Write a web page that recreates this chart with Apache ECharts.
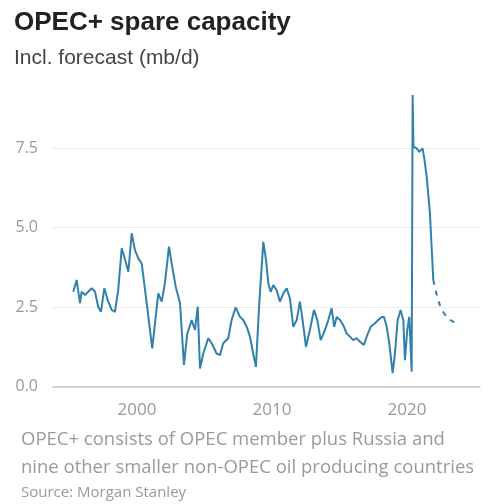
<!DOCTYPE html>
<html>
<head>
<meta charset="utf-8">
<script src="https://cdn.jsdelivr.net/npm/echarts@6/dist/echarts.min.js"></script>
<style>
  html, body { margin: 0; padding: 0; background: #fff; }
  #chart { width: 486px; height: 504px; }
</style>
</head>
<body>
<div id="chart"></div>
<script>
// monthly-ish readings, year as decimal
const actualYears = [
  1995.28, 1995.53, 1995.78, 1995.90, 1996.15, 1996.39, 1996.64, 1996.89, 1997.13, 1997.33,
  1997.58, 1997.83, 1998.13, 1998.37, 1998.61, 1998.87, 1999.06, 1999.36, 1999.61, 1999.85,
  2000.10, 2000.35, 2000.72, 2001.13, 2001.39, 2001.58, 2001.83, 2002.07, 2002.37, 2002.61,
  2002.87, 2003.19, 2003.48, 2003.73, 2004.05, 2004.30, 2004.50, 2004.67, 2004.91, 2005.28,
  2005.53, 2005.90, 2006.15, 2006.39, 2006.76, 2007.01, 2007.31, 2007.63, 2007.87, 2008.13,
  2008.37, 2008.61, 2008.81, 2009.06, 2009.36, 2009.56, 2009.73, 2009.90, 2010.10, 2010.35,
  2010.59, 2010.84, 2011.09, 2011.33, 2011.58, 2011.83, 2012.07, 2012.27, 2012.52, 2012.81,
  2013.11, 2013.36, 2013.61, 2013.93, 2014.17, 2014.42, 2014.61, 2014.79, 2015.04, 2015.28,
  2015.53, 2015.78, 2016.02, 2016.27, 2016.52, 2016.81, 2017.06, 2017.31, 2017.63, 2017.87,
  2018.13, 2018.30, 2018.50, 2018.69, 2018.94, 2019.11, 2019.31, 2019.53, 2019.73, 2019.85,
  2020.02, 2020.17, 2020.35, 2020.42, 2020.48, 2020.72, 2020.91, 2021.16, 2021.28, 2021.46,
  2021.70, 2021.95
];
const actualValues = [
  2.98, 3.35, 2.62, 2.98, 2.88, 2.98, 3.09, 2.98, 2.51, 2.35,
  3.09, 2.72, 2.41, 2.35, 3.03, 4.35, 4.08, 3.61, 4.82, 4.29,
  4.03, 3.87, 2.62, 1.20, 2.19, 2.93, 2.67, 3.25, 4.40, 3.77,
  3.14, 2.62, 0.68, 1.67, 2.09, 1.78, 2.51, 0.57, 1.04, 1.52,
  1.36, 1.04, 0.99, 1.36, 1.52, 2.09, 2.49, 2.19, 2.09, 1.88,
  1.57, 1.04, 0.62, 2.62, 4.55, 3.98, 3.25, 2.98, 3.19, 3.03,
  2.67, 2.93, 3.09, 2.77, 1.88, 2.09, 2.67, 2.09, 1.25, 1.78,
  2.41, 2.09, 1.46, 1.78, 2.09, 2.46, 1.88, 2.19, 2.09, 1.93,
  1.67, 1.57, 1.46, 1.52, 1.41, 1.31, 1.62, 1.88, 1.99, 2.09,
  2.19, 2.19, 1.88, 1.36, 0.42, 1.04, 2.09, 2.41, 2.09, 0.83,
  1.78, 2.19, 0.47, 9.17, 7.54, 7.49, 7.38, 7.49, 7.18, 6.60,
  5.45, 3.35
];
const forecastYears = [2021.95, 2022.44, 2023.04, 2023.93];
const forecastValues = [3.35, 2.56, 2.15, 1.93];

const xLabels = [2000, 2010, 2020];
const yLabels = [0, 2.5, 5, 7.5];
const yGrid = [2.5, 5, 7.5];

const lineColor = '#3081ad';
const pair = (xs, ys) => xs.map((x, i) => [x, ys[i]]);

const chart = echarts.init(document.getElementById('chart'));
chart.setOption({
  backgroundColor: '#fff',
  animation: false,
  title: [{
    text: 'OPEC+ spare capacity',
    left: 14,
    top: 10,
    padding: 0,
    textStyle: { fontFamily: 'Liberation Sans', fontWeight: 'bold', fontSize: 26, color: '#222' }
  }, {
    text: 'Incl. forecast (mb/d)',
    left: 14,
    top: 48,
    padding: 0,
    textStyle: { fontFamily: 'Liberation Sans', fontWeight: 'normal', fontSize: 21, color: '#444' }
  }, {
    text: 'OPEC+ consists of OPEC member plus Russia and',
    left: 21,
    top: 430,
    padding: 0,
    textStyle: { fontFamily: 'Open Sans', fontWeight: 'normal', fontSize: 18.5, color: '#9a9a9a' }
  }, {
    text: 'nine other smaller non-OPEC oil producing countries',
    left: 21,
    top: 458,
    padding: 0,
    textStyle: { fontFamily: 'Open Sans', fontWeight: 'normal', fontSize: 18.5, color: '#9a9a9a' }
  }, {
    text: 'Source: Morgan Stanley',
    left: 21,
    top: 485,
    padding: 0,
    textStyle: { fontFamily: 'Open Sans', fontWeight: 'normal', fontSize: 15, color: '#9a9a9a' }
  }],
  grid: {
    left: 53,
    right: 6,
    top: 90.8,
    bottom: 113,
    containLabel: false
  },
  xAxis: {
    type: 'value',
    min: 1993.78,
    max: 2025.41,
    axisLine: { show: true, lineStyle: { color: '#c4c4c4', width: 1.5 } },
    axisTick: { show: false },
    splitLine: { show: false },
    axisLabel: {
      customValues: xLabels,
      margin: 11,
      fontFamily: 'Open Sans',
      fontSize: 17,
      color: '#999',
      formatter: v => String(Math.round(v))
    }
  },
  yAxis: {
    type: 'value',
    min: -0.14,
    max: 9.3,
    axisLine: { show: false },
    axisTick: { show: false, customValues: yGrid },
    splitLine: { show: true, lineStyle: { color: '#ececec', width: 1 } },
    axisLabel: {
      customValues: yLabels,
      margin: 15,
      fontFamily: 'Open Sans',
      fontSize: 16,
      color: '#999',
      formatter: v => v.toFixed(1)
    }
  },
  series: [{
    name: 'Spare capacity',
    type: 'line',
    data: pair(actualYears, actualValues),
    showSymbol: false,
    lineStyle: { color: lineColor, width: 2 },
    z: 3
  }, {
    name: 'Forecast',
    type: 'line',
    data: pair(forecastYears, forecastValues),
    showSymbol: false,
    smooth: 0.3,
    lineStyle: { color: lineColor, width: 2, type: [5, 6] },
    z: 2
  }]
});
</script>
</body>
</html>
